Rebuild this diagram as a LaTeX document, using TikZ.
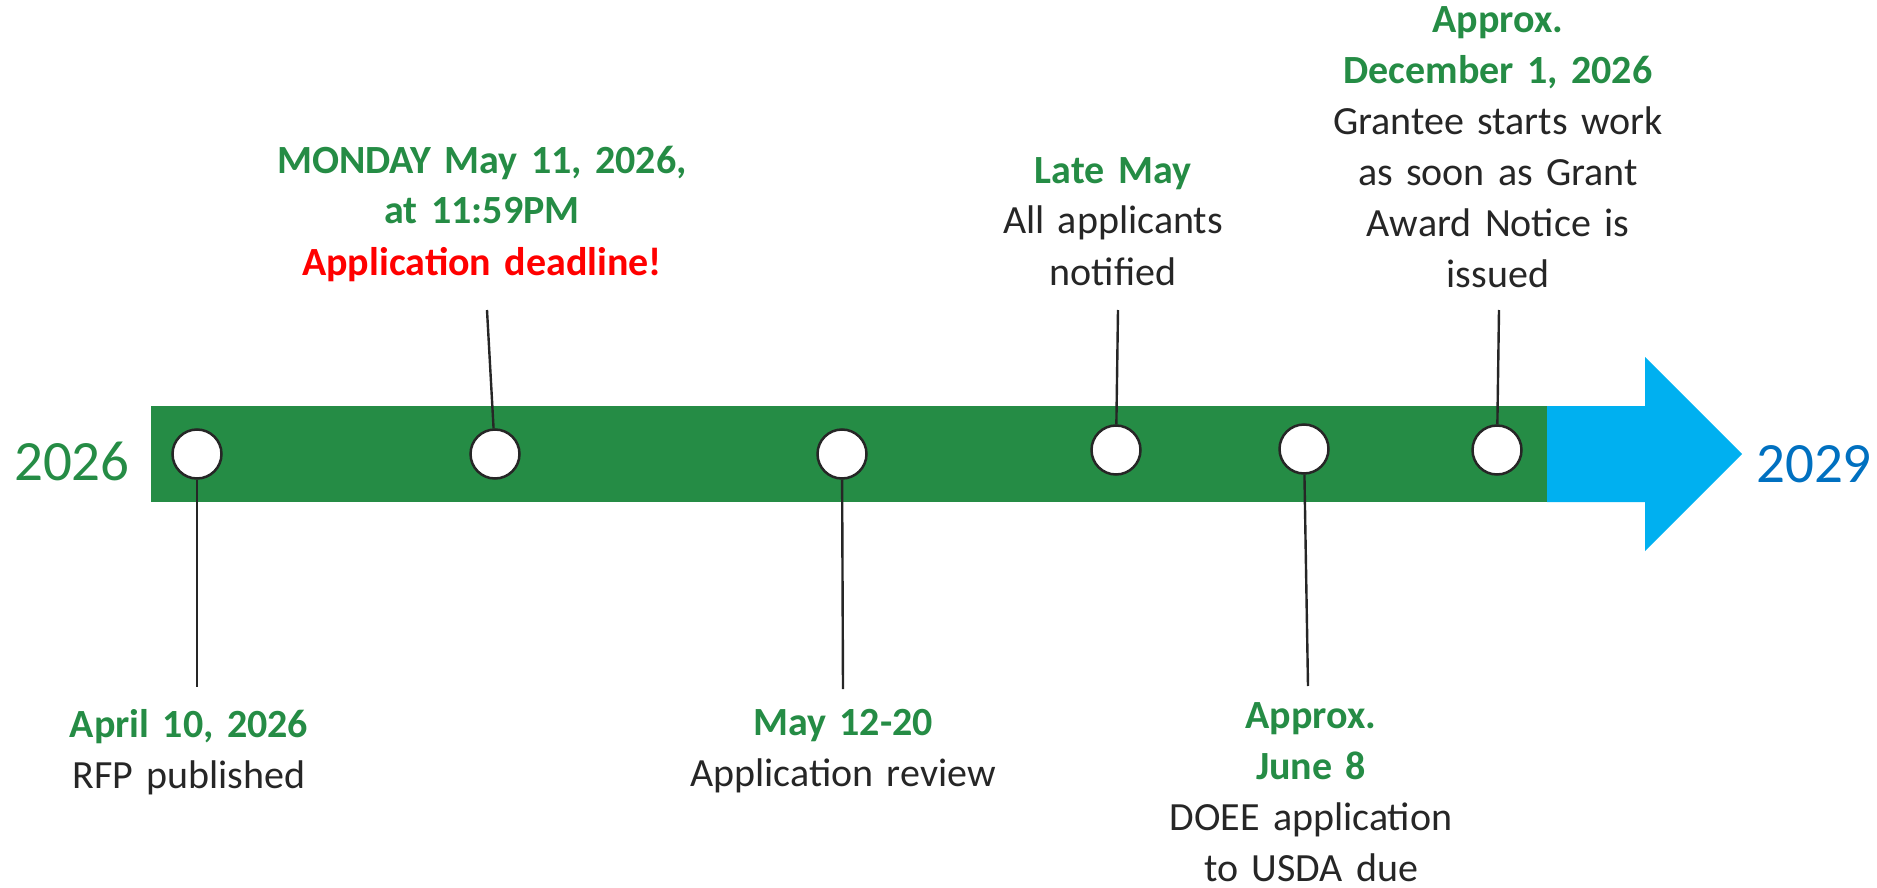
\documentclass[tikz,border=0pt]{standalone}
\usepackage{fontspec}
\setmainfont{Carlito}
\definecolor{tlgreen}{HTML}{258C45}
\definecolor{tlblue}{HTML}{00B0F0}
\definecolor{yrblue}{HTML}{0070C0}
\definecolor{dark}{HTML}{262626}
\definecolor{alert}{HTML}{FF0000}
\tikzset{
  dot/.style={circle, draw=dark, line width=2.5pt, fill=white, minimum size=49pt, inner sep=0pt},
  leader/.style={draw=dark, line width=2.4pt},
  lbl/.style={text width=460pt, align=center, anchor=base, inner sep=0pt, text=dark,
    font=\fontsize{40}{51}\selectfont},
  yr/.style={anchor=base west, inner sep=0pt, font=\fontsize{57}{60}\selectfont}
}
\newcommand{\gb}[1]{\textcolor{tlgreen}{\textbf{#1}}}
\begin{document}
\begin{tikzpicture}[x=1pt,y=-1pt]
\useasboundingbox (0,0) rectangle (1877,888);
% bar
\fill[tlgreen] (151,406) rectangle (1548,502);
\fill[tlblue] (1547,406) -- (1645,406) -- (1645,357) -- (1742,454) -- (1645,551) -- (1645,502) -- (1547,502) -- cycle;
% years
\node[yr, text=tlgreen] (y1) at (14,480) {2026};
\node[yr, text=yrblue] (y2) at (1756,482) {2029};
% dots
\node[dot] (c1) at (197,454) {};
\node[dot] (c2) at (495,454) {};
\node[dot] (c3) at (842,454) {};
\node[dot] (c4) at (1116,450) {};
\node[dot] (c5) at (1304,449) {};
\node[dot] (c6) at (1497,450) {};
% leader ends
\coordinate (e1) at (197,687);
\coordinate (e2) at (487,310);
\coordinate (e3) at (843,689);
\coordinate (e4) at (1118,310);
\coordinate (e5) at (1308,686);
\coordinate (e6) at (1499,310);
\draw[leader] (c1) -- (e1);
\draw[leader] (e2) -- (c2);
\draw[leader] (c3) -- (e3);
\draw[leader] (e4) -- (c4);
\draw[leader] (c5) -- (e5);
\draw[leader] (e6) -- (c6);
% labels
\node[lbl] (t2) at (482,173) {\gb{MONDAY May 11, 2026,}\\\gb{at 11:59PM}\\\textcolor{alert}{\textbf{Application deadline!}}};
\node[lbl] (t4) at (1113,183) {\gb{Late May}\\All applicants\\notified};
\node[lbl] (t6) at (1498,33) {\gb{Approx.}\\\gb{December 1, 2026}\\Grantee starts work\\as soon as Grant\\Award Notice is\\issued};
\node[lbl] (t1) at (189,737) {\gb{April 10, 2026}\\RFP published};
\node[lbl] (t3) at (843,735) {\gb{May 12-20}\\Application review};
\node[lbl] (t5) at (1311,728) {\gb{Approx.}\\\gb{June 8}\\DOEE application\\to USDA due};
\end{tikzpicture}
\end{document}
